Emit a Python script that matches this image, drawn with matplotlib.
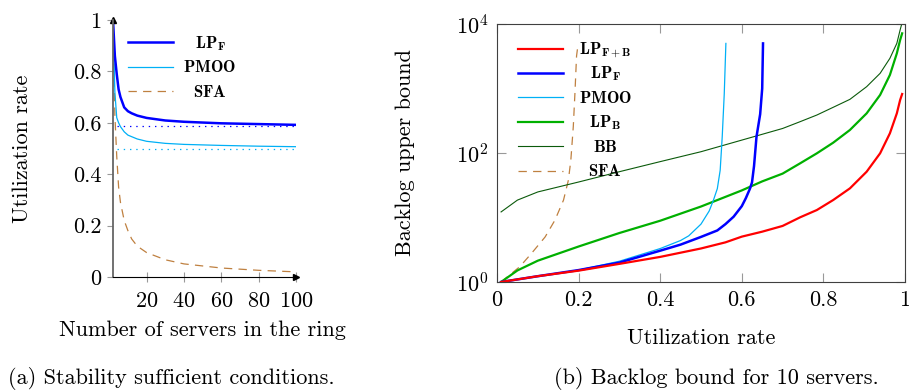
"""Stability region and backlog bound figure (two panels)."""
import matplotlib
matplotlib.use("Agg")
import matplotlib.pyplot as plt
from matplotlib.transforms import IdentityTransform

plt.rcParams.update({
    "font.family": "serif", "font.serif": ["cmr10", "DejaVu Serif"],
    "mathtext.fontset": "cm", "axes.formatter.use_mathtext": True,
    "font.size": 16, "axes.unicode_minus": False,
    "lines.scale_dashes": False,
})
C = {"lpfb": "#ff0000", "lpf": "#0000ff", "pmoo": "#00b0f6",
     "lpb": "#00b000", "bb": "#0b5a0b", "sfa": "#bf8040"}

# ----- (a) utilization rate vs number of servers -----
servers = [2, 3, 4, 5, 6, 8, 10, 12, 15, 20, 30, 40, 60, 80, 100]
lpf_a = [1.0, 0.86, 0.79, 0.73, 0.70, 0.66, 0.645, 0.637, 0.628, 0.619,
         0.609, 0.604, 0.598, 0.595, 0.592]
pmoo_a = [1.0, 0.72, 0.62, 0.60, 0.585, 0.565, 0.552, 0.546, 0.537, 0.528,
          0.520, 0.516, 0.512, 0.509, 0.507]
sfa_a = [1.0, 0.63, 0.47, 0.35, 0.29, 0.22, 0.18, 0.148, 0.12, 0.095,
         0.067, 0.051, 0.035, 0.026, 0.02]
lpf_limit, pmoo_limit, limit_from = 0.588, 0.5, 4
yticks_a = [0, 0.2, 0.4, 0.6, 0.8, 1]
yticklabels_a = ["0", "0.2", "0.4", "0.6", "0.8", "1"]

# ----- (b) backlog bound vs utilization (10 servers) -----
u_lpfb = [0.01, 0.1, 0.2, 0.3, 0.4, 0.5, 0.56, 0.6, 0.65, 0.7, 0.743, 0.784,
          0.824, 0.865, 0.906, 0.939, 0.963, 0.98, 0.988, 0.993]
b_lpfb = [1.0, 1.23, 1.5, 1.91, 2.45, 3.31, 4.12, 5.05, 6.03, 7.4, 10.07,
          13.06, 18.66, 28.3, 51.3, 98.9, 202, 412, 661, 822]
u_lpf = [0.01, 0.1, 0.2, 0.3, 0.4, 0.45, 0.5, 0.54, 0.56, 0.58, 0.6, 0.61,
         0.62, 0.625, 0.63, 0.636, 0.645, 0.65, 0.652]
b_lpf = [1.0, 1.23, 1.53, 2.0, 3.06, 3.8, 5.0, 6.3, 7.9, 10.3, 15, 20, 28,
         35, 63, 178, 400, 1000, 5000]
u_pmoo = [0.01, 0.1, 0.2, 0.3, 0.4, 0.45, 0.47, 0.5, 0.52, 0.53, 0.54,
          0.547, 0.552, 0.557, 0.561]
b_pmoo = [1.0, 1.23, 1.53, 2.1, 3.3, 4.4, 5.2, 7.9, 12.6, 18.2, 28, 54,
          178, 830, 5000]
u_lpb = [0.01, 0.05, 0.1, 0.2, 0.3, 0.4, 0.5, 0.6, 0.65, 0.7, 0.743, 0.784,
         0.824, 0.865, 0.906, 0.939, 0.963, 0.98, 0.988, 0.993]
b_lpb = [1.0, 1.51, 2.14, 3.55, 5.75, 8.91, 14.8, 26.3, 36.3, 47.9, 69.2,
         98.9, 144.5, 227.5, 412, 794, 1622, 3508, 5623, 7161]
u_bb = [0.01, 0.05, 0.1, 0.2, 0.3, 0.4, 0.5, 0.6, 0.65, 0.7, 0.743, 0.784,
        0.824, 0.865, 0.906, 0.939, 0.963, 0.98, 0.988, 0.992]
b_bb = [12.2, 18.6, 24.9, 35.5, 51.3, 73.5, 104.7, 158.5, 195, 240, 306,
        388, 511, 679, 1067, 1718, 2938, 5012, 8072, 10000]
u_sfa = [0.01, 0.056, 0.085, 0.118, 0.142, 0.163, 0.175, 0.181, 0.187,
         0.191, 0.195, 0.199]
b_sfa = [1.0, 1.73, 2.8, 5.0, 9.1, 18.6, 38, 78, 257, 840, 3200, 5000]

fig = plt.figure(figsize=(9.09, 3.91), dpi=100)
axa = fig.add_axes([113 / 909, 114 / 391, 183 / 909, 257 / 391])
axb = fig.add_axes([497 / 909, 109 / 391, 408 / 909, 258 / 391])

# panel (a)
axa.plot(servers, sfa_a, color=C["sfa"], lw=0.9, dashes=(6, 4.5))
axa.plot(servers, pmoo_a, color=C["pmoo"], lw=0.9)
axa.plot(servers, lpf_a, color=C["lpf"], lw=1.8)
axa.hlines(lpf_limit, limit_from, 100, color=C["lpf"], lw=0.9, linestyles=(0, (1, 3.5)))
axa.hlines(pmoo_limit, limit_from, 100, color=C["pmoo"], lw=0.9, linestyles=(0, (1, 3.5)))
axa.set_xlim(2, 100); axa.set_ylim(0, 1)
axa.set_xticks([20, 40, 60, 80, 100])
axa.set_yticks(yticks_a, yticklabels_a)
for s in ("top", "right"):
    axa.spines[s].set_visible(False)
axa.spines["left"].set_color("0.4"); axa.spines["left"].set_linewidth(1.3)
axa.spines["bottom"].set_color("k"); axa.spines["bottom"].set_linewidth(0.8)
axa.tick_params(axis="y", direction="out", length=4.5, color="0.6", pad=4)
axa.tick_params(axis="x", direction="inout", length=7, color="0.6", pad=7)
axa.plot(1, 0, marker=">", color="k", ms=5, transform=axa.transAxes, clip_on=False)
axa.plot(0, 1, marker="^", color="k", ms=5, transform=axa.transAxes, clip_on=False)
axa.set_xlabel("Number of servers in the ring")
axa.xaxis.set_label_coords(0.486, -0.17)
axa.set_ylabel("Utilization rate")
axa.yaxis.set_label_coords(-0.445, 0.5)

# panel (b)
axb.plot(u_sfa, b_sfa, color=C["sfa"], lw=0.9, dashes=(6, 4.5))
axb.plot(u_bb, b_bb, color=C["bb"], lw=0.8)
axb.plot(u_lpb, b_lpb, color=C["lpb"], lw=1.6)
axb.plot(u_pmoo, b_pmoo, color=C["pmoo"], lw=0.9)
axb.plot(u_lpf, b_lpf, color=C["lpf"], lw=1.8)
axb.plot(u_lpfb, b_lpfb, color=C["lpfb"], lw=1.6)
axb.set_yscale("log")
axb.set_xlim(0, 1); axb.set_ylim(1, 1e4)
axb.set_xticks([0, 0.2, 0.4, 0.6, 0.8, 1], ["0", "0.2", "0.4", "0.6", "0.8", "1"])
axb.set_yticks([1, 1e2, 1e4])
axb.yaxis.set_minor_locator(matplotlib.ticker.NullLocator())
for s in axb.spines.values():
    s.set_color("0.25"); s.set_linewidth(0.8)
axb.tick_params(direction="in", length=6.5, color="0.6", top=True, right=True, pad=6)
axb.set_xlabel("Utilization rate")
axb.xaxis.set_label_coords(0.5, -0.18)
axb.set_ylabel("Backlog upper bound")
axb.yaxis.set_label_coords(-0.2, 0.5)

# legends: handles from matplotlib, labels centred like pgfplots
leg_fs = 12


def centred_legend(ax, handles, labels, anchor, xc):
    leg = ax.legend(handles, [" "] * len(handles), loc="upper left",
                    bbox_to_anchor=anchor, frameon=False, handlelength=2.7,
                    labelspacing=0.55, borderpad=0, borderaxespad=0,
                    fontsize=leg_fs)
    fig.canvas.draw()
    r = fig.canvas.get_renderer()
    xd = ax.transAxes.transform((xc, 0))[0]
    for h, lab in zip(leg.get_lines(), labels):
        bb = h.get_window_extent(r)
        yc = (bb.y0 + bb.y1) / 2
        fig.text(xd, yc - 5.5, lab, transform=IdentityTransform(), ha="center",
                 va="baseline", fontsize=leg_fs)


la = axa.get_lines()
centred_legend(axa, [la[2], la[1], la[0]],
               [r"$\mathbf{LP_F}$", r"$\mathbf{PMOO}$", r"$\mathbf{SFA}$"],
               (0.082, 0.938), 0.53)
lb = axb.get_lines()
centred_legend(axb, [lb[5], lb[4], lb[3], lb[2], lb[1], lb[0]],
               [r"$\mathbf{LP_{F+B}}$", r"$\mathbf{LP_F}$", r"$\mathbf{PMOO}$",
                r"$\mathbf{LP_B}$", r"$\mathbf{BB}$", r"$\mathbf{SFA}$"],
               (0.052, 0.93), 0.265)

fig.text(171 / 909, 1 - 378 / 391, "(a) Stability sufficient conditions.",
         ha="center", va="center")
fig.text(716 / 909, 1 - 378 / 391, "(b) Backlog bound for 10 servers.",
         ha="center", va="center")

fig.savefig("out.png", dpi=100)
